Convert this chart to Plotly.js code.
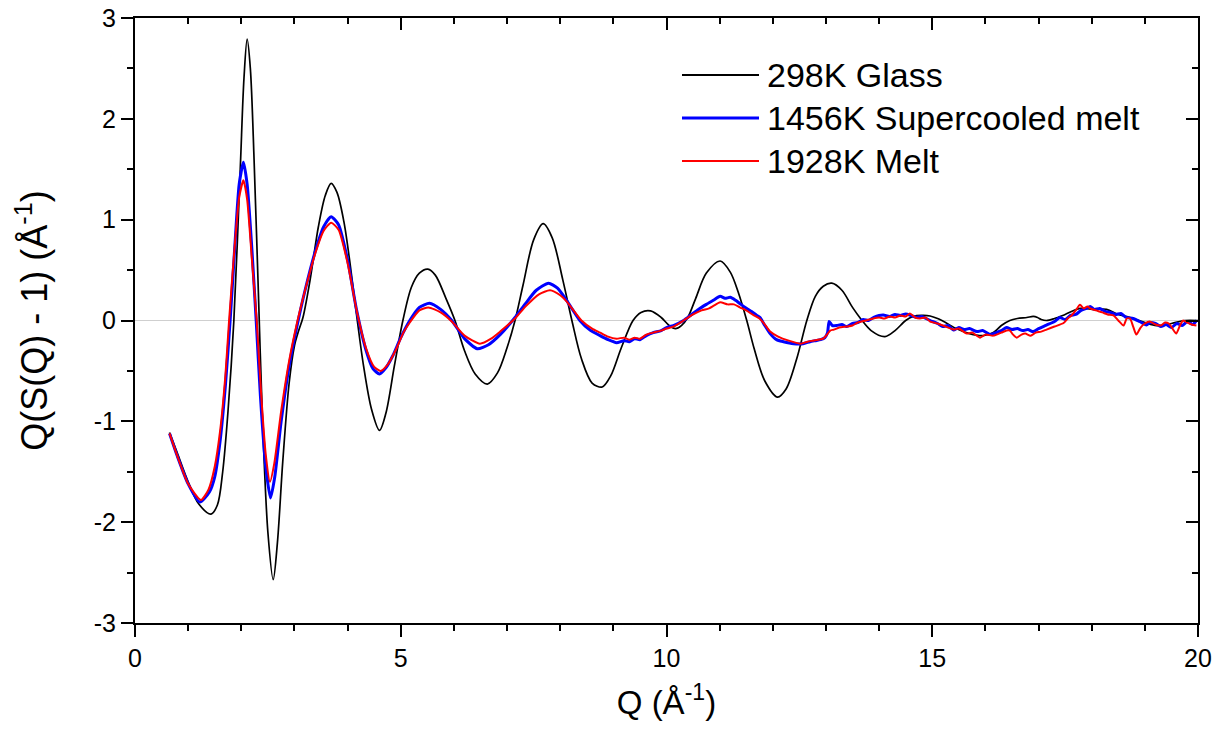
<!DOCTYPE html>
<html>
<head>
<meta charset="utf-8">
<script src="https://cdn.plot.ly/plotly-3.0.1.min.js"></script>
<style>html,body{margin:0;padding:0;background:#fff;}#chart{width:1228px;height:738px;}</style>
</head>
<body>
<div id="chart"></div>
<script>
// 298K Glass
const qGlass = [0.65, 0.8, 1.0, 1.2, 1.43, 1.55, 1.65, 1.75, 1.86, 1.98, 2.05, 2.11, 2.17, 2.24, 2.32, 2.4, 2.5, 2.60, 2.68, 2.78, 2.9, 3.0, 3.08, 3.16, 3.3, 3.45, 3.58, 3.69, 3.80, 3.93, 4.05, 4.17, 4.3, 4.45, 4.60, 4.72, 4.88, 5.04, 5.2, 5.35, 5.51, 5.65, 5.85, 6.02, 6.2, 6.4, 6.63, 6.82, 7.0, 7.15, 7.3, 7.5, 7.68, 7.85, 8.05, 8.22, 8.4, 8.6, 8.79, 8.95, 9.15, 9.37, 9.52, 9.70, 9.9, 10.05, 10.17, 10.28, 10.4, 10.55, 10.75, 11.01, 11.2, 11.35, 11.51, 11.65, 11.85, 12.09, 12.25, 12.45, 12.64, 12.8, 12.95, 13.11, 13.3, 13.5, 13.65, 13.85, 14.11, 14.3, 14.5, 14.64, 14.8, 14.96, 15.1, 15.25, 15.45, 15.7, 15.96, 16.15, 16.3, 16.46, 16.6, 16.78, 16.9, 16.98, 17.05, 17.15, 17.3, 17.5, 17.78, 18.05, 18.28, 18.5, 18.72, 19.0, 19.22, 19.5, 19.75, 20.0];
const sGlass = [-1.11, -1.32, -1.6, -1.82, -1.92, -1.83, -1.5, -0.9, 0.0, 1.5, 2.4, 2.79, 2.5, 1.6, 0.3, -1.0, -2.1, -2.57, -2.2, -1.4, -0.62, -0.25, -0.1, 0.03, 0.42, 0.93, 1.24, 1.36, 1.27, 0.98, 0.55, 0.05, -0.45, -0.88, -1.09, -0.92, -0.45, 0.0, 0.33, 0.47, 0.51, 0.45, 0.22, 0.0, -0.3, -0.53, -0.63, -0.52, -0.27, 0.0, 0.35, 0.8, 0.96, 0.82, 0.4, 0.0, -0.38, -0.62, -0.66, -0.55, -0.27, 0.0, 0.08, 0.095, 0.03, -0.05, -0.08, -0.05, 0.03, 0.22, 0.47, 0.59, 0.48, 0.28, 0.0, -0.28, -0.6, -0.76, -0.68, -0.38, 0.0, 0.24, 0.34, 0.37, 0.3, 0.13, 0.02, -0.1, -0.16, -0.1, 0.0, 0.04, 0.05, 0.045, 0.02, -0.02, -0.08, -0.13, -0.15, -0.12, -0.05, 0.0, 0.02, 0.03, 0.04, 0.03, 0.01, 0.0, 0.02, 0.06, 0.12, 0.11, 0.11, 0.06, 0.03, -0.02, -0.05, -0.03, 0.0, 0.0];

// 1456K Supercooled melt
const qSuper = [0.65, 0.8, 1.0, 1.22, 1.4, 1.5, 1.6, 1.7, 1.79, 1.88, 1.96, 2.04, 2.11, 2.2, 2.28, 2.36, 2.46, 2.55, 2.63, 2.75, 2.9, 3.05, 3.2, 3.4, 3.55, 3.69, 3.83, 4.0, 4.17, 4.35, 4.48, 4.60, 4.72, 4.85, 5.0, 5.17, 5.35, 5.54, 5.75, 5.96, 6.2, 6.44, 6.65, 6.87, 7.15, 7.35, 7.55, 7.78, 7.95, 8.12, 8.37, 8.55, 8.75, 8.9, 9.06, 9.2, 9.3, 9.4, 9.5, 9.62, 9.75, 9.9, 10.0, 10.13, 10.32, 10.45, 10.6, 10.75, 10.88, 11.01, 11.1, 11.2, 11.3, 11.4, 11.51, 11.6, 11.7, 11.76, 11.85, 11.95, 12.07, 12.2, 12.39, 12.57, 12.7, 12.8, 12.9, 12.98, 13.03, 13.06, 13.12, 13.2, 13.3, 13.39, 13.5, 13.6, 13.7, 13.8, 13.9, 14.0, 14.08, 14.2, 14.3, 14.4, 14.5, 14.6, 14.7, 14.8, 14.96, 15.1, 15.2, 15.3, 15.4, 15.5, 15.6, 15.7, 15.84, 15.95, 16.09, 16.2, 16.3, 16.4, 16.5, 16.6, 16.7, 16.8, 16.9, 17.0, 17.15, 17.3, 17.4, 17.5, 17.6, 17.7, 17.8, 17.9, 17.97, 18.05, 18.15, 18.25, 18.35, 18.45, 18.55, 18.65, 18.78, 18.9, 19.03, 19.1, 19.2, 19.3, 19.4, 19.5, 19.6, 19.7, 19.8, 19.9, 19.97];
const sSuper = [-1.12, -1.35, -1.62, -1.80, -1.70, -1.55, -1.2, -0.65, 0.0, 0.75, 1.35, 1.57, 1.35, 0.7, 0.0, -0.75, -1.45, -1.76, -1.55, -1.0, -0.45, -0.05, 0.3, 0.7, 0.93, 1.03, 0.95, 0.6, 0.1, -0.3, -0.48, -0.53, -0.47, -0.35, -0.17, 0.0, 0.13, 0.17, 0.11, 0.0, -0.18, -0.28, -0.24, -0.14, 0.03, 0.17, 0.3, 0.37, 0.32, 0.2, 0.0, -0.09, -0.15, -0.19, -0.22, -0.20, -0.21, -0.18, -0.19, -0.15, -0.12, -0.10, -0.07, -0.05, 0.0, 0.05, 0.11, 0.16, 0.20, 0.24, 0.22, 0.23, 0.20, 0.16, 0.12, 0.09, 0.05, 0.03, -0.05, -0.13, -0.19, -0.21, -0.23, -0.23, -0.21, -0.20, -0.19, -0.17, -0.12, -0.01, -0.05, -0.05, -0.04, -0.06, -0.03, -0.02, 0.01, 0.0, 0.03, 0.05, 0.055, 0.04, 0.06, 0.05, 0.065, 0.05, 0.03, 0.04, 0.0, -0.03, -0.06, -0.05, -0.095, -0.07, -0.09, -0.08, -0.11, -0.10, -0.14, -0.12, -0.10, -0.07, -0.09, -0.08, -0.10, -0.09, -0.11, -0.08, -0.045, -0.01, 0.03, 0.01, 0.05, 0.06, 0.10, 0.12, 0.14, 0.11, 0.12, 0.09, 0.08, 0.06, 0.07, 0.03, 0.02, -0.01, -0.045, -0.02, -0.03, -0.06, -0.04, -0.07, -0.03, -0.05, -0.01, -0.04, 0.0];

// 1928K Melt
const qMelt = [0.65, 0.8, 1.0, 1.24, 1.38, 1.5, 1.6, 1.7, 1.77, 1.87, 1.96, 2.04, 2.11, 2.2, 2.29, 2.37, 2.46, 2.54, 2.62, 2.75, 2.9, 3.05, 3.2, 3.4, 3.55, 3.69, 3.83, 4.0, 4.17, 4.35, 4.5, 4.62, 4.75, 4.9, 5.05, 5.17, 5.35, 5.52, 5.75, 5.96, 6.2, 6.49, 6.7, 6.87, 7.15, 7.35, 7.6, 7.81, 8.0, 8.12, 8.4, 8.6, 8.75, 8.9, 9.06, 9.2, 9.3, 9.4, 9.5, 9.62, 9.75, 9.9, 10.0, 10.13, 10.32, 10.5, 10.66, 10.8, 10.9, 11.01, 11.15, 11.27, 11.38, 11.5, 11.63, 11.75, 11.85, 11.95, 12.1, 12.3, 12.52, 12.65, 12.75, 12.85, 12.95, 13.02, 13.08, 13.15, 13.25, 13.39, 13.5, 13.6, 13.75, 13.89, 14.0, 14.1, 14.2, 14.3, 14.4, 14.5, 14.58, 14.68, 14.77, 14.87, 14.96, 15.1, 15.2, 15.3, 15.4, 15.5, 15.65, 15.75, 15.90, 16.0, 16.15, 16.3, 16.4, 16.46, 16.52, 16.59, 16.68, 16.75, 16.85, 16.95, 17.05, 17.15, 17.3, 17.47, 17.55, 17.62, 17.7, 17.78, 17.85, 17.92, 17.97, 18.08, 18.2, 18.3, 18.41, 18.5, 18.6, 18.66, 18.72, 18.78, 18.84, 18.92, 19.0, 19.09, 19.2, 19.3, 19.38, 19.45, 19.52, 19.59, 19.66, 19.72, 19.8, 19.88, 19.97];
const sMelt = [-1.12, -1.35, -1.62, -1.78, -1.68, -1.45, -1.1, -0.55, 0.0, 0.7, 1.22, 1.39, 1.2, 0.6, 0.0, -0.7, -1.33, -1.60, -1.42, -0.9, -0.4, -0.02, 0.3, 0.68, 0.89, 0.97, 0.9, 0.57, 0.1, -0.28, -0.46, -0.50, -0.44, -0.3, -0.12, -0.02, 0.1, 0.13, 0.08, -0.01, -0.15, -0.23, -0.18, -0.11, 0.02, 0.14, 0.26, 0.30, 0.25, 0.19, 0.0, -0.08, -0.12, -0.16, -0.18, -0.17, -0.19, -0.17, -0.18, -0.14, -0.12, -0.10, -0.08, -0.06, 0.0, 0.06, 0.10, 0.12, 0.15, 0.18, 0.16, 0.16, 0.13, 0.10, 0.055, 0.02, -0.04, -0.11, -0.16, -0.20, -0.23, -0.21, -0.20, -0.19, -0.18, -0.14, -0.10, -0.09, -0.07, -0.06, -0.05, -0.02, 0.0, 0.02, 0.03, 0.02, 0.04, 0.03, 0.05, 0.04, 0.07, 0.03, 0.02, 0.03, -0.01, -0.03, -0.05, -0.07, -0.09, -0.08, -0.13, -0.12, -0.17, -0.14, -0.15, -0.12, -0.10, -0.10, -0.14, -0.17, -0.14, -0.13, -0.15, -0.12, -0.11, -0.09, -0.06, -0.025, 0.02, 0.05, 0.10, 0.155, 0.12, 0.14, 0.12, 0.10, 0.08, 0.06, 0.05, 0.0, -0.05, 0.02, 0.02, -0.06, -0.14, -0.07, -0.03, -0.01, -0.04, -0.05, -0.02, -0.03, -0.08, -0.13, -0.05, 0.0, -0.02, -0.04, -0.05];

const seriesNames = ['298K Glass', '1456K Supercooled melt', '1928K Melt'];
const seriesColors = ['#000000', '#0000ff', '#ff0000'];
const yTickVals = [-3, -2, -1, 0, 1, 2, 3];
const yTickText = ['-3', '-2', '-1', '0', '1', '2', '3'];
const xTickVals = [0, 5, 10, 15, 20];
const xTickText = ['0', '5', '10', '15', '20'];

const FONT = 'Liberation Sans, Arial, sans-serif';

const traces = [
  {x: qGlass, y: sGlass, name: seriesNames[0], mode: 'lines', line: {color: seriesColors[0], width: 1.7, shape: 'spline', smoothing: 0.9}},
  {x: qSuper, y: sSuper, name: seriesNames[1], mode: 'lines', line: {color: seriesColors[1], width: 3, shape: 'spline', smoothing: 0.6}},
  {x: qMelt, y: sMelt, name: seriesNames[2], mode: 'lines', line: {color: seriesColors[2], width: 2, shape: 'spline', smoothing: 0.6}},
  {x: [null], y: [null], xaxis: 'x2', yaxis: 'y2', mode: 'lines', showlegend: false, hoverinfo: 'skip'}
];

// custom legend (line samples + labels), paper coordinates
const legendShapes = [];
const legendAnns = [];
const plotW = 1228 - 135 - 30, plotH = 738 - 18 - 115;
const legRows = [75, 118, 161];
for (let i = 0; i < 3; i++) {
  const yp = 1 - (legRows[i] - 18) / plotH;
  legendShapes.push({type: 'line', xref: 'paper', yref: 'paper', x0: (682 - 135) / plotW, x1: (759 - 135) / plotW, y0: yp, y1: yp,
    line: {color: seriesColors[i], width: i === 1 ? 3 : 2}});
  legendAnns.push({xref: 'paper', yref: 'paper', x: (765 - 135) / plotW, y: yp, xanchor: 'left', yanchor: 'middle',
    text: seriesNames[i], showarrow: false, font: {family: FONT, size: 34, color: '#000'}});
}

const layout = {
  width: 1228, height: 738,
  margin: {l: 135, r: 30, t: 18, b: 115},
  paper_bgcolor: '#fff', plot_bgcolor: '#fff',
  showlegend: false,
  font: {family: FONT, color: '#000'},
  xaxis: {
    range: [0, 20], tickvals: xTickVals, ticktext: xTickText,
    ticks: 'outside', ticklen: 12, tickwidth: 2, tickcolor: '#000',
    minor: {ticks: 'outside', ticklen: 6, dtick: 1, tickwidth: 2, tickcolor: '#000'},
    showline: true, linecolor: '#000', linewidth: 2, showgrid: false, zeroline: false,
    tickfont: {family: FONT, size: 25, color: '#000'},
    title: {text: 'Q (Å<sup>-1</sup>)', font: {family: FONT, size: 33, color: '#000'}, standoff: 20}
  },
  yaxis: {
    range: [-3, 3], tickvals: yTickVals, ticktext: yTickText,
    ticks: 'outside', ticklen: 12, tickwidth: 2, tickcolor: '#000',
    minor: {ticks: 'outside', ticklen: 6, dtick: 0.5, tickwidth: 2, tickcolor: '#000'},
    showline: true, linecolor: '#000', linewidth: 2, showgrid: false,
    zeroline: true, zerolinecolor: '#cfcfcf', zerolinewidth: 1.5,
    tickfont: {family: FONT, size: 25, color: '#000'},
    title: {text: 'Q(S(Q) - 1) (Å<sup>-1</sup>)', font: {family: FONT, size: 36, color: '#000'}, standoff: 35}
  },
  xaxis2: {
    overlaying: 'x', side: 'top', range: [0, 20], tickvals: xTickVals, showticklabels: false,
    ticks: 'inside', ticklen: 12, tickwidth: 2, tickcolor: '#000',
    minor: {ticks: 'inside', ticklen: 6, dtick: 1, tickwidth: 2, tickcolor: '#000'},
    showline: true, linecolor: '#000', linewidth: 2, showgrid: false, zeroline: false
  },
  yaxis2: {
    overlaying: 'y', side: 'right', range: [-3, 3], tickvals: yTickVals, showticklabels: false,
    ticks: 'inside', ticklen: 12, tickwidth: 2, tickcolor: '#000',
    minor: {ticks: 'inside', ticklen: 6, dtick: 0.5, tickwidth: 2, tickcolor: '#000'},
    showline: true, linecolor: '#000', linewidth: 2, showgrid: false, zeroline: false
  },
  shapes: legendShapes,
  annotations: legendAnns
};

Plotly.newPlot('chart', traces, layout, {displayModeBar: false, staticPlot: true});
</script>
</body>
</html>
